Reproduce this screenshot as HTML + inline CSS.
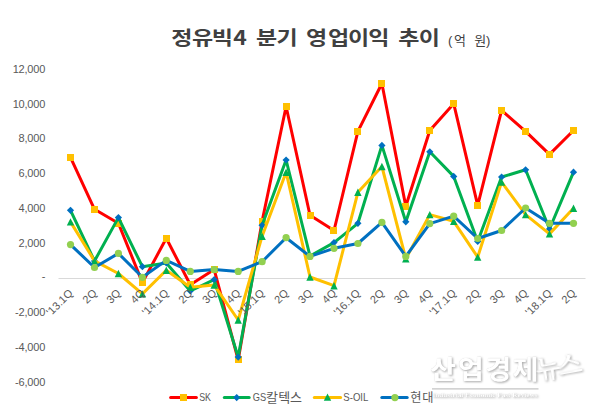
<!DOCTYPE html>
<html lang="ko"><head><meta charset="utf-8"><title>정유빅4 분기 영업이익 추이</title>
<style>
html,body{margin:0;padding:0;background:#fff;}
body{width:600px;height:417px;overflow:hidden;}
svg{display:block;}
text{font-family:"Liberation Sans","Noto Sans CJK KR",sans-serif;}
.ax{font-size:11px;fill:#595959;}
.ay{letter-spacing:-0.2px;}
.lg{font-size:10.3px;fill:#595959;}
.lk{font-size:13px;}
.tt{font-size:19.5px;font-weight:bold;fill:#404040;font-family:"Noto Sans CJK KR","Liberation Sans",sans-serif;}
.sub{font-size:13px;fill:#404040;}
.wm1{font-family:"Noto Sans CJK KR","Liberation Sans",sans-serif;font-weight:700;font-size:26.5px;fill:#fff;}
.wm1b{font-family:"Noto Serif CJK SC","Liberation Serif",serif;font-weight:700;font-size:26px;fill:#fff;}
.wm2{font-family:"Liberation Serif",serif;font-weight:bold;font-size:7px;fill:#fff;}
.wm text{filter:drop-shadow(1.3px 1.3px 1.1px rgba(0,0,0,.30)) drop-shadow(0 0 0.7px rgba(0,0,0,.16));}
</style></head><body>
<svg width="600" height="417" viewBox="0 0 600 417">
<rect width="600" height="417" fill="#fff"/>
<line x1="58.5" y1="278.5" x2="585.5" y2="278.5" stroke="#d9d9d9" stroke-width="1"/>
<polyline points="70.5,157.4 94.5,209.3 118.4,223.2 142.4,282.6 166.3,238.3 190.3,284.8 214.2,269.6 238.2,360.0 262.1,221.3 286.1,106.5 310.0,215.2 334.0,230.5 357.9,131.3 381.9,83.5 405.8,206.3 429.8,130.5 453.7,103.7 477.7,205.4 501.6,110.3 525.6,131.3 549.5,154.4 573.5,130.5" fill="none" stroke="#ff0000" stroke-width="3" stroke-linejoin="round" stroke-linecap="round"/>
<rect x="67" y="154" width="7" height="7" fill="#ffc000"/>
<rect x="91" y="206" width="7" height="7" fill="#ffc000"/>
<rect x="115" y="220" width="7" height="7" fill="#ffc000"/>
<rect x="139" y="279" width="7" height="7" fill="#ffc000"/>
<rect x="163" y="235" width="7" height="7" fill="#ffc000"/>
<rect x="187" y="281" width="7" height="7" fill="#ffc000"/>
<rect x="211" y="266" width="7" height="7" fill="#ffc000"/>
<rect x="235" y="356" width="7" height="7" fill="#ffc000"/>
<rect x="259" y="218" width="7" height="7" fill="#ffc000"/>
<rect x="283" y="103" width="7" height="7" fill="#ffc000"/>
<rect x="307" y="212" width="7" height="7" fill="#ffc000"/>
<rect x="330" y="227" width="7" height="7" fill="#ffc000"/>
<rect x="354" y="128" width="7" height="7" fill="#ffc000"/>
<rect x="378" y="80" width="7" height="7" fill="#ffc000"/>
<rect x="402" y="203" width="7" height="7" fill="#ffc000"/>
<rect x="426" y="127" width="7" height="7" fill="#ffc000"/>
<rect x="450" y="100" width="7" height="7" fill="#ffc000"/>
<rect x="474" y="202" width="7" height="7" fill="#ffc000"/>
<rect x="498" y="107" width="7" height="7" fill="#ffc000"/>
<rect x="522" y="128" width="7" height="7" fill="#ffc000"/>
<rect x="546" y="151" width="7" height="7" fill="#ffc000"/>
<rect x="570" y="127" width="7" height="7" fill="#ffc000"/>
<polyline points="70.5,210.3 94.5,261.0 118.4,217.6 142.4,266.7 166.3,263.0 190.3,291.0 214.2,279.7 238.2,357.1 262.1,225.3 286.1,160.0 310.0,256.0 334.0,242.6 357.9,223.3 381.9,145.4 405.8,221.8 429.8,151.8 453.7,176.4 477.7,241.4 501.6,177.0 525.6,169.8 549.5,229.0 573.5,172.2" fill="none" stroke="#00b050" stroke-width="3" stroke-linejoin="round" stroke-linecap="round"/>
<polygon points="70.5,206.7 74.1,210.3 70.5,213.9 66.9,210.3" fill="#0070c0"/>
<polygon points="94.5,257.4 98.1,261.0 94.5,264.6 90.9,261.0" fill="#0070c0"/>
<polygon points="118.4,214.0 122.0,217.6 118.4,221.2 114.8,217.6" fill="#0070c0"/>
<polygon points="142.4,263.1 146.0,266.7 142.4,270.3 138.8,266.7" fill="#0070c0"/>
<polygon points="166.3,259.4 169.9,263.0 166.3,266.6 162.7,263.0" fill="#0070c0"/>
<polygon points="190.3,287.4 193.9,291.0 190.3,294.6 186.7,291.0" fill="#0070c0"/>
<polygon points="214.2,276.1 217.8,279.7 214.2,283.3 210.6,279.7" fill="#0070c0"/>
<polygon points="238.2,353.5 241.8,357.1 238.2,360.7 234.6,357.1" fill="#0070c0"/>
<polygon points="262.1,221.7 265.7,225.3 262.1,228.9 258.5,225.3" fill="#0070c0"/>
<polygon points="286.1,156.4 289.7,160.0 286.1,163.6 282.5,160.0" fill="#0070c0"/>
<polygon points="310.0,252.4 313.6,256.0 310.0,259.6 306.4,256.0" fill="#0070c0"/>
<polygon points="334.0,239.0 337.6,242.6 334.0,246.2 330.4,242.6" fill="#0070c0"/>
<polygon points="357.9,219.7 361.5,223.3 357.9,226.9 354.3,223.3" fill="#0070c0"/>
<polygon points="381.9,141.8 385.5,145.4 381.9,149.0 378.3,145.4" fill="#0070c0"/>
<polygon points="405.8,218.2 409.4,221.8 405.8,225.4 402.2,221.8" fill="#0070c0"/>
<polygon points="429.8,148.2 433.4,151.8 429.8,155.4 426.2,151.8" fill="#0070c0"/>
<polygon points="453.7,172.8 457.3,176.4 453.7,180.0 450.1,176.4" fill="#0070c0"/>
<polygon points="477.7,237.8 481.3,241.4 477.7,245.0 474.1,241.4" fill="#0070c0"/>
<polygon points="501.6,173.4 505.2,177.0 501.6,180.6 498.0,177.0" fill="#0070c0"/>
<polygon points="525.6,166.2 529.2,169.8 525.6,173.4 522.0,169.8" fill="#0070c0"/>
<polygon points="549.5,225.4 553.1,229.0 549.5,232.6 545.9,229.0" fill="#0070c0"/>
<polygon points="573.5,168.6 577.1,172.2 573.5,175.8 569.9,172.2" fill="#0070c0"/>
<polyline points="70.5,221.9 94.5,260.9 118.4,273.5 142.4,293.9 166.3,270.3 190.3,287.2 214.2,285.1 238.2,320.0 262.1,236.2 286.1,172.2 310.0,277.0 334.0,285.7 357.9,192.3 381.9,166.5 405.8,258.7 429.8,214.6 453.7,221.3 477.7,257.1 501.6,182.1 525.6,214.6 549.5,233.9 573.5,208.3" fill="none" stroke="#ffc000" stroke-width="3" stroke-linejoin="round" stroke-linecap="round"/>
<polygon points="70.5,218.2 74.2,225.6 66.8,225.6" fill="#00b050"/>
<polygon points="94.5,257.2 98.2,264.6 90.8,264.6" fill="#00b050"/>
<polygon points="118.4,269.8 122.1,277.2 114.7,277.2" fill="#00b050"/>
<polygon points="142.4,290.2 146.1,297.6 138.7,297.6" fill="#00b050"/>
<polygon points="166.3,266.6 170.0,274.0 162.6,274.0" fill="#00b050"/>
<polygon points="190.3,283.5 194.0,290.9 186.6,290.9" fill="#00b050"/>
<polygon points="214.2,281.4 217.9,288.8 210.5,288.8" fill="#00b050"/>
<polygon points="238.2,316.3 241.9,323.7 234.5,323.7" fill="#00b050"/>
<polygon points="262.1,232.5 265.8,239.9 258.4,239.9" fill="#00b050"/>
<polygon points="286.1,168.5 289.8,175.9 282.4,175.9" fill="#00b050"/>
<polygon points="310.0,273.3 313.7,280.7 306.3,280.7" fill="#00b050"/>
<polygon points="334.0,282.0 337.7,289.4 330.3,289.4" fill="#00b050"/>
<polygon points="357.9,188.6 361.6,196.0 354.2,196.0" fill="#00b050"/>
<polygon points="381.9,162.8 385.6,170.2 378.2,170.2" fill="#00b050"/>
<polygon points="405.8,255.0 409.5,262.4 402.1,262.4" fill="#00b050"/>
<polygon points="429.8,210.9 433.5,218.3 426.1,218.3" fill="#00b050"/>
<polygon points="453.7,217.6 457.4,225.0 450.0,225.0" fill="#00b050"/>
<polygon points="477.7,253.4 481.4,260.8 474.0,260.8" fill="#00b050"/>
<polygon points="501.6,178.4 505.3,185.8 497.9,185.8" fill="#00b050"/>
<polygon points="525.6,210.9 529.3,218.3 521.9,218.3" fill="#00b050"/>
<polygon points="549.5,230.2 553.2,237.6 545.8,237.6" fill="#00b050"/>
<polygon points="573.5,204.6 577.2,212.0 569.8,212.0" fill="#00b050"/>
<polyline points="70.5,244.6 94.5,267.5 118.4,253.4 142.4,277.3 166.3,260.4 190.3,271.4 214.2,269.6 238.2,271.4 262.1,261.7 286.1,237.7 310.0,256.4 334.0,248.3 357.9,243.5 381.9,222.4 405.8,256.4 429.8,223.6 453.7,216.1 477.7,238.5 501.6,230.5 525.6,208.0 549.5,223.3 573.5,223.3" fill="none" stroke="#0070c0" stroke-width="3" stroke-linejoin="round" stroke-linecap="round"/>
<circle cx="70.5" cy="244.6" r="3.6" fill="#92d050"/>
<circle cx="94.5" cy="267.5" r="3.6" fill="#92d050"/>
<circle cx="118.4" cy="253.4" r="3.6" fill="#92d050"/>
<circle cx="142.4" cy="277.3" r="3.6" fill="#92d050"/>
<circle cx="166.3" cy="260.4" r="3.6" fill="#92d050"/>
<circle cx="190.3" cy="271.4" r="3.6" fill="#92d050"/>
<circle cx="214.2" cy="269.6" r="3.6" fill="#92d050"/>
<circle cx="238.2" cy="271.4" r="3.6" fill="#92d050"/>
<circle cx="262.1" cy="261.7" r="3.6" fill="#92d050"/>
<circle cx="286.1" cy="237.7" r="3.6" fill="#92d050"/>
<circle cx="310.0" cy="256.4" r="3.6" fill="#92d050"/>
<circle cx="334.0" cy="248.3" r="3.6" fill="#92d050"/>
<circle cx="357.9" cy="243.5" r="3.6" fill="#92d050"/>
<circle cx="381.9" cy="222.4" r="3.6" fill="#92d050"/>
<circle cx="405.8" cy="256.4" r="3.6" fill="#92d050"/>
<circle cx="429.8" cy="223.6" r="3.6" fill="#92d050"/>
<circle cx="453.7" cy="216.1" r="3.6" fill="#92d050"/>
<circle cx="477.7" cy="238.5" r="3.6" fill="#92d050"/>
<circle cx="501.6" cy="230.5" r="3.6" fill="#92d050"/>
<circle cx="525.6" cy="208.0" r="3.6" fill="#92d050"/>
<circle cx="549.5" cy="223.3" r="3.6" fill="#92d050"/>
<circle cx="573.5" cy="223.3" r="3.6" fill="#92d050"/>
<text x="45.1" y="72.8" text-anchor="end" class="ax ay">12,000</text>
<text x="45.1" y="107.6" text-anchor="end" class="ax ay">10,000</text>
<text x="45.1" y="142.4" text-anchor="end" class="ax ay">8,000</text>
<text x="45.1" y="177.2" text-anchor="end" class="ax ay">6,000</text>
<text x="45.1" y="212.0" text-anchor="end" class="ax ay">4,000</text>
<text x="45.1" y="246.8" text-anchor="end" class="ax ay">2,000</text>
<text x="45.1" y="280.2" text-anchor="end" class="ax ay">-</text>
<text x="45.1" y="316.4" text-anchor="end" class="ax ay">-2,000</text>
<text x="45.1" y="351.2" text-anchor="end" class="ax ay">-4,000</text>
<text x="45.1" y="386.0" text-anchor="end" class="ax ay">-6,000</text>
<text transform="translate(73.5,293.8) rotate(-45)" text-anchor="end" class="ax">'13.1Q</text>
<text transform="translate(97.5,293.8) rotate(-45)" text-anchor="end" class="ax">2Q</text>
<text transform="translate(121.4,293.8) rotate(-45)" text-anchor="end" class="ax">3Q</text>
<text transform="translate(145.4,293.8) rotate(-45)" text-anchor="end" class="ax">4Q</text>
<text transform="translate(169.3,293.8) rotate(-45)" text-anchor="end" class="ax">'14.1Q</text>
<text transform="translate(193.3,293.8) rotate(-45)" text-anchor="end" class="ax">2Q</text>
<text transform="translate(217.2,293.8) rotate(-45)" text-anchor="end" class="ax">3Q</text>
<text transform="translate(241.2,293.8) rotate(-45)" text-anchor="end" class="ax">4Q</text>
<text transform="translate(265.1,293.8) rotate(-45)" text-anchor="end" class="ax">'15.1Q</text>
<text transform="translate(289.1,293.8) rotate(-45)" text-anchor="end" class="ax">2Q</text>
<text transform="translate(313.0,293.8) rotate(-45)" text-anchor="end" class="ax">3Q</text>
<text transform="translate(337.0,293.8) rotate(-45)" text-anchor="end" class="ax">4Q</text>
<text transform="translate(360.9,293.8) rotate(-45)" text-anchor="end" class="ax">'16.1Q</text>
<text transform="translate(384.9,293.8) rotate(-45)" text-anchor="end" class="ax">2Q</text>
<text transform="translate(408.8,293.8) rotate(-45)" text-anchor="end" class="ax">3Q</text>
<text transform="translate(432.8,293.8) rotate(-45)" text-anchor="end" class="ax">4Q</text>
<text transform="translate(456.7,293.8) rotate(-45)" text-anchor="end" class="ax">'17.1Q</text>
<text transform="translate(480.7,293.8) rotate(-45)" text-anchor="end" class="ax">2Q</text>
<text transform="translate(504.6,293.8) rotate(-45)" text-anchor="end" class="ax">3Q</text>
<text transform="translate(528.6,293.8) rotate(-45)" text-anchor="end" class="ax">4Q</text>
<text transform="translate(552.5,293.8) rotate(-45)" text-anchor="end" class="ax">'18.1Q</text>
<text transform="translate(576.5,293.8) rotate(-45)" text-anchor="end" class="ax">2Q</text>
<line x1="170.6" y1="397.6" x2="196.4" y2="397.6" stroke="#ff0000" stroke-width="3" stroke-linecap="round"/>
<rect x="180" y="394" width="7" height="7" fill="#ffc000"/>
<text x="199.2" y="401" class="lg" textLength="11.8" lengthAdjust="spacingAndGlyphs">SK</text>
<line x1="224.3" y1="397.6" x2="249.2" y2="397.6" stroke="#00b050" stroke-width="3" stroke-linecap="round"/>
<polygon points="236.7,394.0 240.3,397.6 236.7,401.2 233.1,397.6" fill="#0070c0"/>
<text y="401" class="lg"><tspan x="252.7" textLength="13.4" lengthAdjust="spacingAndGlyphs">GS</tspan><tspan class="lk" x="266.1 278.3 289.9" y="402.4">칼텍스</tspan></text>
<line x1="314.3" y1="397.6" x2="340.6" y2="397.6" stroke="#ffc000" stroke-width="3" stroke-linecap="round"/>
<polygon points="327.5,393.4 331.2,400.8 323.8,400.8" fill="#00b050"/>
<text x="343.3" y="401" class="lg" textLength="25.1" lengthAdjust="spacingAndGlyphs">S-OIL</text>
<line x1="381.8" y1="397.6" x2="407.2" y2="397.6" stroke="#0070c0" stroke-width="3" stroke-linecap="round"/>
<circle cx="394.9" cy="397.6" r="3.6" fill="#92d050"/>
<text x="410.3 422.3" y="402.4" class="lg lk" style="font-size:12.2px">현대</text>
<text transform="scale(1.18,1)" x="154.19 171.61 188.39 203.39 225.97 243.39 268.35 286.91 303.90 321.06 346.53 363.90" y="44.9" text-anchor="middle" class="tt">정유빅4분기영업이익추이</text>
<text x="447.9 453.9 466 474.2 485.9" y="44.6" class="sub">(억 원)</text>
<g class="wm"><text transform="scale(1.07,1)" y="379.5" text-anchor="middle" class="wm1" x="414.02 439.91 465.70 491.21">산업경제</text><text transform="translate(560,375.8) rotate(-10)" text-anchor="middle" class="wm1b" x="-10.5 11" y="0">뉴스</text><line x1="432" y1="388.9" x2="538.5" y2="388.9" stroke="#c4c4c4" stroke-width="1.2"/><text x="432.5" y="396.7" class="wm2" textLength="105" lengthAdjust="spacingAndGlyphs">Industrial Economic Fast Reviews</text></g>
</svg>
</body></html>
